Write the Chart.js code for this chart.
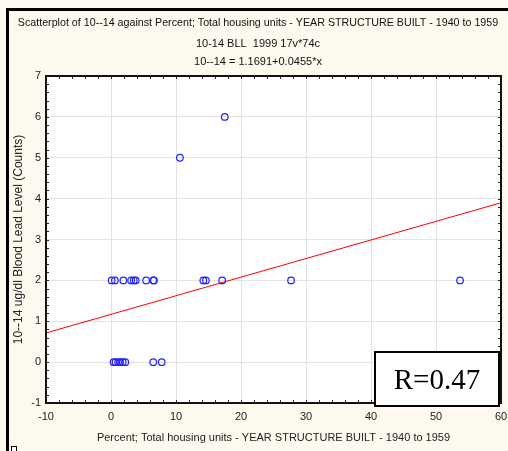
<!DOCTYPE html>
<html>
<head>
<meta charset="utf-8">
<script src="https://cdn.jsdelivr.net/npm/chart.js@4.4.1/dist/chart.umd.min.js"></script>
<style>
  html, body { margin: 0; padding: 0; background: #fdf9ee; }
  #wrap { position: relative; width: 508px; height: 451px; overflow: hidden; }
  #frame { position: absolute; left: 6px; top: 8px; right: -4px; bottom: -4px;
           border-left: 3px solid #000; border-top: 3px solid #000; }
  #corner { position: absolute; left: 11px; top: 446px; width: 4px; height: 6px; border: 1px solid #000; background: #fff; }
  canvas { position: absolute; left: 0; top: 0; }
</style>
</head>
<body>
<div id="wrap">
  <div id="frame"></div>
  <canvas id="chart-0" width="508" height="451"></canvas>
  <div id="corner"></div>
</div>
<script>
const pctBuilt = [0.1, 0.6, 1.9, 3.1, 3.5, 3.8, 5.4, 6.5, 6.6, 14.2, 14.6, 17.1, 27.7, 53.7,
                  0.4, 0.7, 1.1, 1.4, 1.8, 2.2, 6.5, 7.8,
                  10.6, 17.5];
const bllCounts = [2, 2, 2, 2, 2, 2, 2, 2, 2, 2, 2, 2, 2, 2,
                   0, 0, 0, 0, 0, 0, 0, 0,
                   5, 6];
// regression line end points (10--14 = 1.1691+0.0455*x)
const fitX = [-10, 60];
const fitY = [0.714, 3.899];

const titleLines = [
  "Scatterplot of 10--14 against Percent; Total housing units - YEAR STRUCTURE BUILT - 1940 to 1959",
  "10-14 BLL  1999 17v*74c",
  "10--14 = 1.1691+0.0455*x"
];
const xLabel = "Percent; Total housing units - YEAR STRUCTURE BUILT - 1940 to 1959";
const yLabel = "10--14 ug/dl Blood Lead Level (Counts)";
const rText = "R=0.47";

const FONT = "'Liberation Sans', Arial, sans-serif";

const frame = {
  id: "frame",
  beforeDraw(chart) {
    const { ctx, chartArea: a } = chart;
    ctx.save();
    ctx.fillStyle = "#ffffff";
    ctx.fillRect(a.left, a.top, a.right - a.left, a.bottom - a.top);
    ctx.restore();
  },
  afterDraw(chart) {
    const { ctx, chartArea: a, scales } = chart;
    ctx.save();
    // minor ticks, inward on all four sides
    ctx.strokeStyle = "#222";
    ctx.lineWidth = 1;
    ctx.beginPath();
    for (let v = -10; v <= 60.001; v += 2) {
      const px = Math.round(scales.x.getPixelForValue(v)) + 0.5;
      ctx.moveTo(px, a.bottom); ctx.lineTo(px, a.bottom - 3);
      ctx.moveTo(px, a.top); ctx.lineTo(px, a.top + 3);
    }
    for (let v = -1; v <= 7.001; v += 0.2) {
      const py = Math.round(scales.y.getPixelForValue(v)) + 0.5;
      ctx.moveTo(a.left, py); ctx.lineTo(a.left + 3, py);
      ctx.moveTo(a.right, py); ctx.lineTo(a.right - 3, py);
    }
    ctx.stroke();
    ctx.strokeStyle = "#111";
    ctx.lineWidth = 2;
    ctx.strokeRect(a.left, a.top, a.right - a.left, a.bottom - a.top);

    // titles
    ctx.fillStyle = "#111";
    ctx.textAlign = "center";
    ctx.textBaseline = "middle";
    const ys = [23, 44, 62];
    titleLines.forEach((t, i) => {
      ctx.font = (i === 0 ? "10.7px " : "11px ") + FONT;
      ctx.fillText(t, 258, ys[i]);
    });

    // R box
    ctx.fillStyle = "#fff";
    ctx.fillRect(375, 352, 124, 54);
    ctx.strokeStyle = "#000";
    ctx.lineWidth = 2;
    ctx.strokeRect(375, 352, 124, 54);
    ctx.fillStyle = "#000";
    ctx.font = "29px 'Liberation Serif', 'Times New Roman', serif";
    ctx.fillText(rText, 437, 381);
    ctx.restore();
  }
};

new Chart(document.getElementById("chart-0"), {
  type: "scatter",
  data: {
    datasets: [
      {
        label: "points",
        data: pctBuilt.map((x, i) => ({ x: x, y: bllCounts[i] })),
        pointStyle: "circle",
        pointRadius: 3.3,
        borderColor: "#2222ff",
        backgroundColor: "rgba(0,0,0,0)",
        borderWidth: 1.2
      },
      {
        type: "line",
        label: "fit",
        data: fitX.map((x, i) => ({ x: x, y: fitY[i] })),
        borderColor: "#ff0000",
        borderWidth: 1,
        pointRadius: 0,
        fill: false
      }
    ]
  },
  plugins: [frame],
  options: {
    responsive: false,
    animation: false,
    devicePixelRatio: 1,
    layout: { padding: { left: 9, top: 76, right: 7, bottom: 0 } },
    plugins: {
      legend: { display: false },
      tooltip: { enabled: false }
    },
    scales: {
      x: {
        type: "linear",
        min: -10, max: 60,
        afterFit: (s) => { s.height = 48; s.paddingLeft = 0; s.paddingRight = 0; },
        ticks: { stepSize: 10, color: "#222", padding: 7, font: { family: FONT, size: 11 } },
        grid: { color: "#e2e2e2", drawTicks: false },
        border: { display: false },
        title: { display: true, text: xLabel, color: "#222", padding: { top: 0, bottom: 6 }, font: { family: FONT, size: 11 } }
      },
      y: {
        type: "linear",
        min: -1, max: 7,
        afterFit: (s) => { s.width = 37; s.paddingTop = 0; s.paddingBottom = 0; },
        ticks: { stepSize: 1, color: "#222", padding: 5, font: { family: FONT, size: 11 } },
        grid: { color: "#e2e2e2", drawTicks: false },
        border: { display: false },
        title: { display: true, text: yLabel, color: "#222", padding: { top: 2, bottom: 0 }, font: { family: FONT, size: 12 } }
      }
    }
  }
});
</script>
</body>
</html>
